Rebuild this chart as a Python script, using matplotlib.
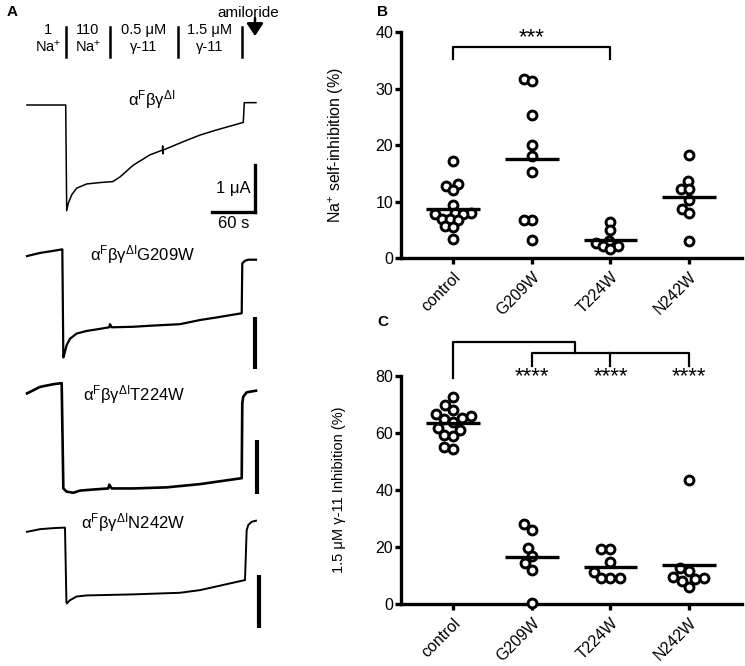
import numpy as np
import matplotlib
matplotlib.use("Agg")
import matplotlib.pyplot as plt

plt.rcParams['font.family'] = ['Liberation Sans', 'DejaVu Sans']
plt.rcParams['mathtext.fontset'] = 'custom'
plt.rcParams['mathtext.rm'] = 'Liberation Sans'
plt.rcParams['mathtext.it'] = 'Liberation Sans:italic'
plt.rcParams['mathtext.bf'] = 'Liberation Sans:bold'

# ---------------- data ----------------
categories = ["control", "G209W", "T224W", "N242W"]

B_control = [17.3, 13.2, 12.8, 12.1, 9.5, 8.1, 8.1, 7.8, 7.8, 7.0, 7.0, 6.7, 5.7, 5.6, 3.4]
B_G209W = [31.7, 31.3, 25.4, 20.1, 18.1, 15.2, 6.8, 6.8, 3.2]
B_T224W = [6.5, 5.0, 3.0, 2.7, 2.2, 2.1, 1.6]
B_N242W = [18.2, 13.6, 12.3, 12.2, 10.3, 8.7, 8.0, 3.1]

C_control = [72.5, 69.7, 68.0, 66.7, 65.9, 65.3, 65.0, 64.0, 61.9, 61.0, 59.3, 58.8, 55.1, 54.4]
C_G209W = [27.9, 25.8, 19.7, 16.7, 14.3, 12.0, 0.2]
C_T224W = [19.4, 19.4, 14.9, 11.1, 9.0, 9.0, 9.0]
C_N242W = [43.4, 12.7, 11.5, 9.4, 9.0, 8.6, 7.9, 5.9]

B_yticks = [0, 10, 20, 30, 40]
C_yticks = [0, 20, 40, 60, 80]

# traces: time (s), current (uA, relative to post-amiloride level)
t1 = [0, 54.0, 55.4, 57.6, 62.4, 69.3, 83.3, 101.9, 119.6, 122.8, 129.8, 148.3, 171.6,
      189.0, 189.3, 189.5, 189.8, 218.1, 241.4, 264.7, 287.9, 301.8, 303.2, 319.5]
i1 = [0, 0, -2.25, -2.09, -1.91, -1.77, -1.68, -1.65, -1.63, -1.60, -1.53, -1.28, -1.06,
      -0.96, -0.87, -1.04, -0.96, -0.78, -0.64, -0.53, -0.43, -0.37, 0.05, 0.05]

t2 = [0, 18.1, 36.7, 49.3, 50.7, 53.0, 55.4, 60.0, 69.3, 83.3, 101.8, 114.8, 115.8, 118.2,
      148.3, 171.6, 213.5, 241.4, 264.7, 299.6, 300.4, 304.2, 308.8, 319.5]
i2 = [0.07, 0.13, 0.17, 0.20, -1.88, -1.77, -1.64, -1.52, -1.42, -1.37, -1.33, -1.30, -1.24, -1.30,
      -1.29, -1.27, -1.24, -1.16, -1.11, -1.03, -0.07, -0.02, 0, 0]

t3 = [0, 18.1, 36.7, 48.4, 50.7, 55.4, 64.6, 73.9, 92.5, 113.4, 114.8, 118.2, 148.3,
      194.9, 241.4, 299.6, 300.4, 301.8, 306.5, 319.5]
i3 = [-0.05, 0.07, 0.12, 0.14, -1.81, -1.87, -1.89, -1.85, -1.83, -1.81, -1.74, -1.81, -1.81,
      -1.79, -1.73, -1.62, -0.23, -0.11, -0.03, 0]

t4 = [0, 18.1, 36.7, 53.0, 55.0, 55.4, 60.0, 69.3, 83.3, 115.8, 148.3, 213.5, 241.4,
      304.2, 306.5, 308.8, 313.6, 319.5]
i4 = [-0.21, -0.16, -0.14, -0.13, -1.53, -1.56, -1.50, -1.43, -1.41, -1.40, -1.39, -1.36, -1.31,
      -1.12, -0.18, -0.08, -0.02, 0]

trace_labels = [r'α$^{\rm F}$βγ$^{\Delta\rm I}$',
                r'α$^{\rm F}$βγ$^{\Delta\rm I}$G209W',
                r'α$^{\rm F}$βγ$^{\Delta\rm I}$T224W',
                r'α$^{\rm F}$βγ$^{\Delta\rm I}$N242W']

header_top = ["1", "110", "0.5 μM", "1.5 μM"]
header_bot = ["Na$^{+}$", "Na$^{+}$", "γ-11", "γ-11"]

# ---------------- figure ----------------
W, H = 745, 666
fig = plt.figure(figsize=(W / 100, H / 100), dpi=100)


def px_axes(x0, y0, x1, y1):
    return fig.add_axes([x0 / W, 1 - y1 / H, (x1 - x0) / W, (y1 - y0) / H])


over = fig.add_axes([0, 0, 1, 1])
over.set_xlim(0, W)
over.set_ylim(H, 0)
over.axis('off')


def swarm(vals, xpx, ypx, d):
    vals = np.asarray(vals, float)
    order = np.argsort(vals)
    placed = []
    offs = np.zeros(len(vals))
    for i in order:
        y = vals[i] * ypx
        near = [(px, py) for px, py in placed if abs(py - y) < d]
        cands = [0.0]
        for px, py in near:
            dx = np.sqrt(d * d - (py - y) ** 2)
            cands += [px + dx, px - dx]
        cands.sort(key=lambda c: (abs(c), c))
        for c in cands:
            if all((c - px) ** 2 + (y - py) ** 2 >= d * d - 1e-6 for px, py in near):
                offs[i] = c
                break
        placed.append((offs[i], y))
    return offs / xpx


def scatter_panel(ax, groups, yticks, ymax, ypx, d):
    xpx = (742 - 401) / (3.67 + 0.66)
    for k, g in enumerate(groups):
        offs = swarm(g, xpx, ypx, d)
        ax.plot(k + offs, g, 'o', ms=6.4, mfc='white', mec='black', mew=2.1,
                clip_on=False, zorder=3)
        m = np.mean(g)
        ax.plot([k - 0.34, k + 0.34], [m, m], color='black', lw=2.4, zorder=4,
                solid_capstyle='butt')
    ax.set_xlim(-0.66, 3.67)
    ax.set_ylim(0, ymax)
    ax.set_yticks(yticks)
    ax.set_xticks(range(len(categories)))
    ax.set_xticklabels(categories, rotation=45, ha='right', va='top',
                       rotation_mode='anchor', fontsize=11.5)
    for s in ['top', 'right']:
        ax.spines[s].set_visible(False)
    for s in ['left', 'bottom']:
        ax.spines[s].set_linewidth(2.4)
    ax.tick_params(axis='both', width=2.4, length=4, color='black')
    ax.tick_params(axis='y', labelsize=11.5, pad=1.5)
    ax.tick_params(axis='x', pad=4)
    ax.patch.set_alpha(0)


# Panel B
axB = px_axes(401, 32.3, 742, 258.3)
scatter_panel(axB, [B_control, B_G209W, B_T224W, B_N242W], B_yticks, 40, 226 / 40, 8.0)
axB.set_ylabel('Na$^{+}$ self-inhibition (%)', fontsize=11.5)
axB.yaxis.set_label_coords(-0.16, 0.5)
axB.plot([0, 0, 2, 2], [35.3, 37.4, 37.4, 35.3], color='black', lw=1.6, clip_on=False)
axB.text(1, 37.2, '***', ha='center', va='bottom', fontsize=16)

# Panel C
axC = px_axes(401, 376, 742, 604)
scatter_panel(axC, [C_control, C_G209W, C_T224W, C_N242W], C_yticks, 80, 228 / 80, 9.5)
axC.set_ylabel('1.5 μM γ-11 Inhibition (%)', fontsize=10.5)
axC.yaxis.set_label_coords(-0.16, 0.5)
axC.plot([0, 0, 1.55, 1.55], [79.3, 92.0, 92.0, 88.1], color='black', lw=1.6, clip_on=False)
axC.plot([1, 1, 3, 3], [83.6, 88.1, 88.1, 83.6], color='black', lw=1.6, clip_on=False)
axC.plot([2, 2], [88.1, 83.6], color='black', lw=1.6, clip_on=False)
for k in [1, 2, 3]:
    axC.text(k, 76.0, '****', ha='center', va='bottom', fontsize=16)

# Panel A traces
SEC_PER_PX = 60 / 43
X0_PX = 27


def trace_axes(y0, y1, yref, scale):
    ax = px_axes(0, y0, 280, y1)
    ax.set_xlim(-X0_PX * SEC_PER_PX, (280 - X0_PX) * SEC_PER_PX)
    ax.set_ylim((yref - y1) / scale, (yref - y0) / scale)
    ax.axis('off')
    return ax


a1 = trace_axes(70, 230, 105, 47)
a1.plot(t1, i1, color='black', lw=1.1)
a1.plot([318.1, 318.1], [-1.28, -2.28], color='black', lw=2.4, solid_capstyle='projecting')
a1.plot([258.1, 318.1], [-2.28, -2.28], color='black', lw=2.4, solid_capstyle='projecting')

a2 = trace_axes(235, 380, 259.7, 52)
a2.plot(t2, i2, color='black', lw=1.6)
a2.plot([318.1, 318.1], [-1.11, -2.11], color='black', lw=3.0, solid_capstyle='butt')

a3 = trace_axes(375, 505, 390.7, 54)
a3.plot(t3, i3, color='black', lw=1.9)
a3.plot([320.4, 320.4], [-0.91, -1.91], color='black', lw=3.0, solid_capstyle='butt')

a4 = trace_axes(510, 640, 520.7, 53)
a4.plot(t4, i4, color='black', lw=1.4)
a4.plot([324.1, 324.1], [-1.03, -2.03], color='black', lw=3.0, solid_capstyle='butt')

# overlay texts (pixel coordinates)
over.text(152, 100, trace_labels[0], ha='center', va='center', fontsize=12)
over.text(90, 255, trace_labels[1], ha='left', va='center', fontsize=12)
over.text(83, 395, trace_labels[2], ha='left', va='center', fontsize=12)
over.text(81, 523, trace_labels[3], ha='left', va='center', fontsize=12)
over.text(251, 189, '1 μA', ha='right', va='center', fontsize=12)
over.text(234, 223, '60 s', ha='center', va='center', fontsize=12)

hx = [48, 88, 144, 210]
for x, top, bot in zip(hx, header_top, header_bot):
    over.text(x, 30, top, ha='center', va='center', fontsize=10.5)
    over.text(x, 47, bot, ha='center', va='center', fontsize=10.5)
for x in [66, 110, 178, 242]:
    over.plot([x, x], [27, 57], color='black', lw=1.8)
over.text(217, 13, 'amiloride', ha='left', va='center', fontsize=11)
over.annotate('', xy=(255, 36), xytext=(255, 18),
              arrowprops=dict(arrowstyle='-|>,head_length=0.75,head_width=0.5',
                              color='black', lw=1.8, shrinkA=0, shrinkB=0))

over.text(7, 12, 'A', ha='left', va='center', fontsize=11, fontweight='bold')
over.text(377, 12, 'B', ha='left', va='center', fontsize=11, fontweight='bold')
over.text(377, 322, 'C', ha='left', va='center', fontsize=11, fontweight='bold')

fig.savefig('out.png', dpi=100)
